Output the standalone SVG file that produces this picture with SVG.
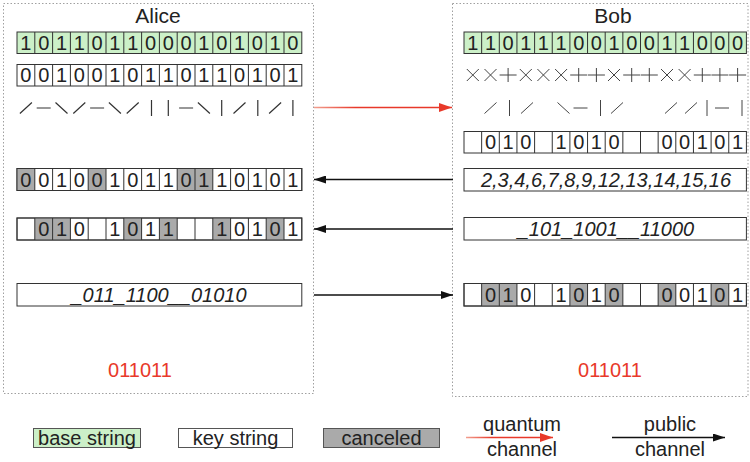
<svg xmlns="http://www.w3.org/2000/svg" width="750" height="462" viewBox="0 0 750 462">
<defs>
<style>
text{font-family:"Liberation Sans",Arial,sans-serif;fill:#222}
.t{font-size:21px;text-anchor:middle}
.d{font-size:20px;text-anchor:middle}
.i{font-size:20px;text-anchor:middle;font-style:italic}
.r{font-size:20px;text-anchor:middle;fill:#e8392a}
.lg{font-size:20px;text-anchor:middle}
.frame{fill:none;stroke:#a0a0a0;stroke-width:1;stroke-dasharray:1.5 2}
.box{fill:#fff;stroke:#333;stroke-width:1}
.grid{fill:none;stroke:#333;stroke-width:1}
.g{fill:#ccf0c8}
.c{fill:#aaa}
.sym{stroke:#333;stroke-width:1.2;fill:none}
.sym2{stroke:#444;stroke-width:1;fill:none}
.blk{stroke:#111;stroke-width:1.3;fill:none}
</style>
<marker id="ab" markerWidth="12" markerHeight="8" refX="12" refY="4" orient="auto" markerUnits="userSpaceOnUse"><path d="M0,0 L12,4 L0,8 z" fill="#111"/></marker>
<marker id="ar" markerWidth="13" markerHeight="9" refX="13" refY="4.5" orient="auto" markerUnits="userSpaceOnUse"><path d="M0,0 L13,4.5 L0,9 z" fill="#e8392a"/></marker>
<linearGradient id="rg1" gradientUnits="userSpaceOnUse" x1="314" y1="0" x2="452" y2="0"><stop offset="0" stop-color="#f2a090"/><stop offset="0.3" stop-color="#e8392a"/><stop offset="1" stop-color="#e8392a"/></linearGradient>
<linearGradient id="rg2" gradientUnits="userSpaceOnUse" x1="466" y1="0" x2="553" y2="0"><stop offset="0" stop-color="#f2a090"/><stop offset="0.3" stop-color="#e8392a"/><stop offset="1" stop-color="#e8392a"/></linearGradient>
</defs>

<g id="alice">
<rect class="frame" x="3.5" y="3.5" width="310" height="390"/>
<text class="t" x="158" y="23">Alice</text>
</g>
<g id="bob">
<rect class="frame" x="452.5" y="3.5" width="295.5" height="393"/>
<text class="t" x="613" y="23">Bob</text>
</g>

<g id="alice-base">
<rect class="g" x="17" y="32" width="284.8" height="21.5"/>
<rect class="grid" x="17" y="32" width="284.8" height="21.5"/>
<path class="grid" d="M34.8,32v21.5M52.6,32v21.5M70.4,32v21.5M88.2,32v21.5M106,32v21.5M123.8,32v21.5M141.6,32v21.5M159.4,32v21.5M177.2,32v21.5M195,32v21.5M212.8,32v21.5M230.6,32v21.5M248.4,32v21.5M266.2,32v21.5M284,32v21.5"/>
<text class="d" y="49.5"><tspan x="25.9">1</tspan><tspan x="43.7">0</tspan><tspan x="61.5">1</tspan><tspan x="79.3">1</tspan><tspan x="97.1">0</tspan><tspan x="114.9">1</tspan><tspan x="132.7">1</tspan><tspan x="150.5">0</tspan><tspan x="168.3">0</tspan><tspan x="186.1">0</tspan><tspan x="203.9">1</tspan><tspan x="221.7">0</tspan><tspan x="239.5">1</tspan><tspan x="257.3">0</tspan><tspan x="275.1">1</tspan><tspan x="292.9">0</tspan></text>
</g>

<g id="alice-key">
<rect class="box" x="17" y="64.5" width="284.8" height="21.5"/>
<path class="grid" d="M34.8,64.5v21.5M52.6,64.5v21.5M70.4,64.5v21.5M88.2,64.5v21.5M106,64.5v21.5M123.8,64.5v21.5M141.6,64.5v21.5M159.4,64.5v21.5M177.2,64.5v21.5M195,64.5v21.5M212.8,64.5v21.5M230.6,64.5v21.5M248.4,64.5v21.5M266.2,64.5v21.5M284,64.5v21.5"/>
<text class="d" y="82"><tspan x="25.9">0</tspan><tspan x="43.7">0</tspan><tspan x="61.5">1</tspan><tspan x="79.3">0</tspan><tspan x="97.1">0</tspan><tspan x="114.9">1</tspan><tspan x="132.7">0</tspan><tspan x="150.5">1</tspan><tspan x="168.3">1</tspan><tspan x="186.1">0</tspan><tspan x="203.9">1</tspan><tspan x="221.7">1</tspan><tspan x="239.5">0</tspan><tspan x="257.3">1</tspan><tspan x="275.1">0</tspan><tspan x="292.9">1</tspan></text>
</g>

<g id="alice-pol">
<path class="sym" d="M19.9,113.5L31.9,102.5 M36.7,108H50.7 M55.5,102.5L67.5,113.5 M73.3,113.5L85.3,102.5 M90.1,108H104.1 M108.9,102.5L120.9,113.5 M126.7,113.5L138.7,102.5 M151.5,100V116 M168.3,100V116 M179.1,108H193.1 M197.9,102.5L209.9,113.5 M221.7,100V116 M233.5,113.5L245.5,102.5 M257.8,100V116 M269.1,113.5L281.1,102.5 M292.9,100V116"/>
</g>

<g id="alice-sift">
<rect class="box" x="17" y="168.5" width="284.8" height="22"/>
<rect class="c" x="17" y="168.5" width="17.8" height="22"/>
<rect class="c" x="88.2" y="168.5" width="17.8" height="22"/>
<rect class="c" x="177.2" y="168.5" width="35.6" height="22"/>
<rect class="grid" x="17" y="168.5" width="284.8" height="22"/>
<path class="grid" d="M34.8,168.5v22M52.6,168.5v22M70.4,168.5v22M88.2,168.5v22M106,168.5v22M123.8,168.5v22M141.6,168.5v22M159.4,168.5v22M177.2,168.5v22M195,168.5v22M212.8,168.5v22M230.6,168.5v22M248.4,168.5v22M266.2,168.5v22M284,168.5v22"/>
<text class="d" y="186.5"><tspan x="25.9">0</tspan><tspan x="43.7">0</tspan><tspan x="61.5">1</tspan><tspan x="79.3">0</tspan><tspan x="97.1">0</tspan><tspan x="114.9">1</tspan><tspan x="132.7">0</tspan><tspan x="150.5">1</tspan><tspan x="168.3">1</tspan><tspan x="186.1">0</tspan><tspan x="203.9">1</tspan><tspan x="221.7">1</tspan><tspan x="239.5">0</tspan><tspan x="257.3">1</tspan><tspan x="275.1">0</tspan><tspan x="292.9">1</tspan></text>
</g>

<g id="alice-cmp">
<rect class="box" x="17" y="218" width="284.8" height="22"/>
<rect class="c" x="34.8" y="218" width="35.6" height="22"/>
<rect class="c" x="123.8" y="218" width="17.8" height="22"/>
<rect class="c" x="159.4" y="218" width="17.8" height="22"/>
<rect class="c" x="212.8" y="218" width="17.8" height="22"/>
<rect class="c" x="266.2" y="218" width="17.8" height="22"/>
<rect class="grid" x="17" y="218" width="284.8" height="22"/>
<path class="grid" d="M34.8,218v22M52.6,218v22M70.4,218v22M88.2,218v22M106,218v22M123.8,218v22M141.6,218v22M159.4,218v22M177.2,218v22M195,218v22M212.8,218v22M230.6,218v22M248.4,218v22M266.2,218v22M284,218v22"/>
<text class="d" y="236"><tspan x="43.7">0</tspan><tspan x="61.5">1</tspan><tspan x="79.3">0</tspan><tspan x="114.9">1</tspan><tspan x="132.7">0</tspan><tspan x="150.5">1</tspan><tspan x="168.3">1</tspan><tspan x="221.7">1</tspan><tspan x="239.5">0</tspan><tspan x="257.3">1</tspan><tspan x="275.1">0</tspan><tspan x="292.9">1</tspan></text>
</g>

<g id="alice-ann">
<rect class="box" x="17" y="283.5" width="284.8" height="22.5"/>
<text class="i" x="159" y="301.5">_011_1100__01010</text>
</g>

<text class="r" x="140" y="377">011011</text>

<g id="bob-base">
<rect class="g" x="464" y="32" width="282.4" height="21.5"/>
<rect class="grid" x="464" y="32" width="282.4" height="21.5"/>
<path class="grid" d="M481.65,32v21.5M499.3,32v21.5M516.95,32v21.5M534.6,32v21.5M552.25,32v21.5M569.9,32v21.5M587.55,32v21.5M605.2,32v21.5M622.85,32v21.5M640.5,32v21.5M658.15,32v21.5M675.8,32v21.5M693.45,32v21.5M711.1,32v21.5M728.75,32v21.5"/>
<text class="d" y="49.5"><tspan x="472.8">1</tspan><tspan x="490.5">1</tspan><tspan x="508.1">0</tspan><tspan x="525.8">1</tspan><tspan x="543.4">1</tspan><tspan x="561.1">1</tspan><tspan x="578.7">0</tspan><tspan x="596.4">0</tspan><tspan x="614">1</tspan><tspan x="631.7">0</tspan><tspan x="649.3">0</tspan><tspan x="667">1</tspan><tspan x="684.6">1</tspan><tspan x="702.3">0</tspan><tspan x="719.9">0</tspan><tspan x="737.6">0</tspan></text>
</g>

<g id="bob-bases">
<path class="sym2" d="M466.8,69L478.8,81M466.8,81L478.8,69 M484.5,69L496.5,81M484.5,81L496.5,69 M499.6,75H516.6M508.1,68V82 M519.8,69L531.8,81M519.8,81L531.8,69 M537.4,69L549.4,81M537.4,81L549.4,69 M555.1,69L567.1,81M555.1,81L567.1,69 M570.2,75H587.2M578.7,68V82 M587.9,75H604.9M596.4,68V82 M608,69L620,81M608,81L620,69 M623.2,75H640.2M631.7,68V82 M640.8,75H657.8M649.3,68V82 M661,69L673,81M661,81L673,69 M678.6,69L690.6,81M678.6,81L690.6,69 M693.8,75H710.8M702.3,68V82 M711.4,75H728.4M719.9,68V82 M729.1,75H746.1M737.6,68V82"/>
</g>

<g id="bob-pol">
<path class="sym2" d="M484.5,113.5L496.5,102.5 M509.5,100V116 M521,113.5L533,102.5 M557.5,102.5L569.5,113.5 M573.5,108H587.5 M600.5,100V116 M611,113.5L623,102.5 M665,113.5L677,102.5 M685,113.5L697,102.5 M707,100V116 M715,108H729 M742,100V116"/>
</g>

<g id="bob-key">
<rect class="box" x="464" y="131.5" width="282.4" height="21.5"/>
<path class="grid" d="M481.65,131.5v21.5M499.3,131.5v21.5M516.95,131.5v21.5M534.6,131.5v21.5M552.25,131.5v21.5M569.9,131.5v21.5M587.55,131.5v21.5M605.2,131.5v21.5M622.85,131.5v21.5M640.5,131.5v21.5M658.15,131.5v21.5M675.8,131.5v21.5M693.45,131.5v21.5M711.1,131.5v21.5M728.75,131.5v21.5"/>
<text class="d" y="149"><tspan x="490.5">0</tspan><tspan x="508.1">1</tspan><tspan x="525.8">0</tspan><tspan x="561.1">1</tspan><tspan x="578.7">0</tspan><tspan x="596.4">1</tspan><tspan x="614">0</tspan><tspan x="667">0</tspan><tspan x="684.6">0</tspan><tspan x="702.3">1</tspan><tspan x="719.9">0</tspan><tspan x="737.6">1</tspan></text>
</g>

<g id="bob-recv">
<rect class="box" x="464" y="168.5" width="282.4" height="22.5"/>
<text class="i" x="606" y="186.5">2,3,4,6,7,8,9,12,13,14,15,16</text>
</g>

<g id="bob-ann">
<rect class="box" x="464" y="217.5" width="282.4" height="22.5"/>
<text class="i" x="606" y="235.5">_101_1001__11000</text>
</g>

<g id="bob-cmp">
<rect class="box" x="464" y="283.5" width="282.4" height="22.5"/>
<rect class="c" x="481.65" y="283.5" width="35.3" height="22.5"/>
<rect class="c" x="569.9" y="283.5" width="17.65" height="22.5"/>
<rect class="c" x="605.2" y="283.5" width="17.65" height="22.5"/>
<rect class="c" x="658.15" y="283.5" width="17.65" height="22.5"/>
<rect class="c" x="711.1" y="283.5" width="17.65" height="22.5"/>
<rect class="grid" x="464" y="283.5" width="282.4" height="22.5"/>
<path class="grid" d="M481.65,283.5v22.5M499.3,283.5v22.5M516.95,283.5v22.5M534.6,283.5v22.5M552.25,283.5v22.5M569.9,283.5v22.5M587.55,283.5v22.5M605.2,283.5v22.5M622.85,283.5v22.5M640.5,283.5v22.5M658.15,283.5v22.5M675.8,283.5v22.5M693.45,283.5v22.5M711.1,283.5v22.5M728.75,283.5v22.5"/>
<text class="d" y="301.5"><tspan x="490.5">0</tspan><tspan x="508.1">1</tspan><tspan x="525.8">0</tspan><tspan x="561.1">1</tspan><tspan x="578.7">0</tspan><tspan x="596.4">1</tspan><tspan x="614">0</tspan><tspan x="667">0</tspan><tspan x="684.6">0</tspan><tspan x="702.3">1</tspan><tspan x="719.9">0</tspan><tspan x="737.6">1</tspan></text>
</g>

<text class="r" x="610" y="377">011011</text>

<g id="connectors">
<path stroke="url(#rg1)" stroke-width="1.5" fill="none" d="M314,107.5H452" marker-end="url(#ar)"/>
<path class="blk" d="M453,179.5H314" marker-end="url(#ab)"/>
<path class="blk" stroke="#666" d="M453,229H314" marker-end="url(#ab)"/>
<path class="blk" d="M314,295H453" marker-end="url(#ab)"/>
</g>

<g id="legend">
<g id="lg-base"><rect x="33.5" y="428.5" width="107" height="19" fill="#ccf0c8" stroke="#555"/><text class="lg" x="87" y="445">base string</text></g>
<g id="lg-key"><rect x="178.5" y="428.5" width="114" height="19" fill="#fff" stroke="#555"/><text class="lg" x="235.5" y="445">key string</text></g>
<g id="lg-canceled"><rect x="323.5" y="428.5" width="116" height="19" fill="#aaa" stroke="#555"/><text class="lg" x="381.5" y="445">canceled</text></g>
<g id="lg-quantum"><path stroke="url(#rg2)" stroke-width="1.5" fill="none" d="M466,437.5H553" marker-end="url(#ar)"/><text class="lg" x="522" y="431">quantum</text><text class="lg" x="522" y="456">channel</text></g>
<g id="lg-public"><path class="blk" d="M612,437.5H725" marker-end="url(#ab)"/><text class="lg" x="670" y="431">public</text><text class="lg" x="670" y="456">channel</text></g>
</g>
</svg>
